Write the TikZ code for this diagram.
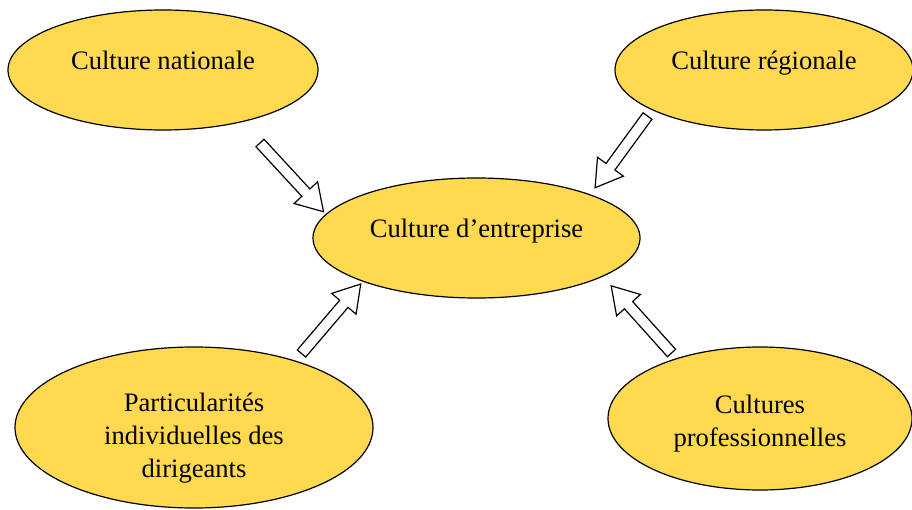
\documentclass[tikz,border=0pt]{standalone}
\usepackage{fontspec}
\setmainfont{Liberation Serif}
\usepackage{tikz}
\usetikzlibrary{calc,shapes,positioning}
\definecolor{jaune}{RGB}{255,217,80}

\tikzset{
  bulle/.style={ellipse, draw, line width=1.2pt, fill=jaune, inner sep=0pt,
    align=center, font=\fontsize{26.6}{33}\selectfont},
  uneligne/.style={text height=18pt, text depth=18pt},
  % fleche creuse : le corps et la pointe en un seul contour
  fleche/.style={draw, fill=white, line width=1.2pt, line join=miter,
    to path={let \p1=($(\tikztotarget)-(\tikztostart)$), \n1={atan2(\y1,\x1)},
      \n2={veclen(\x1,\y1)-#1}, \n3={\n2-26} in
      -- ($(\tikztostart)+(\n1+90:5.5pt)$)
      -- ($(\tikztostart)+(\n1:\n3)+(\n1+90:5.5pt)$)
      -- ($(\tikztostart)+(\n1:\n3)+(\n1+90:16pt)$)
      -- ($(\tikztostart)+(\n1:\n2)$)
      -- ($(\tikztostart)+(\n1:\n3)+(\n1-90:16pt)$)
      -- ($(\tikztostart)+(\n1:\n3)+(\n1-90:5.5pt)$)
      -- ($(\tikztostart)+(\n1-90:5.5pt)$)
      -- cycle}},
  fleche/.default=3
}

\begin{document}
\begin{tikzpicture}[x=1pt, y=1pt]
  \useasboundingbox (0,0) rectangle (912,509);

  \node[bulle, uneligne, minimum width=310pt, minimum height=120pt] (nat) at (163,439) {Culture nationale};
  \node[bulle, uneligne, minimum width=298pt, minimum height=120pt] (reg) at (764,439) {Culture régionale};
  \node[bulle, uneligne, minimum width=327pt, minimum height=120pt] (ent) at (476.5,271) {Culture d’entreprise};
  \node[bulle, minimum width=358pt, minimum height=161pt] (part) at (194,81.5)
    {\rule{0pt}{40pt}Particularités\\individuelles des\\dirigeants};
  \node[bulle, minimum width=304pt, minimum height=143pt] (prof) at (760,90.5)
    {\rule{0pt}{28pt}Cultures\\professionnelles};

  \coordinate (qn) at (260,366);
  \coordinate (qr) at (647.5,393);
  \coordinate (qp) at (301.5,155.5);
  \coordinate (qc) at (671.5,156);

  \path (qn) edge[fleche] (ent.171)
        (qr) edge[fleche=8] (ent.21)
        (qp) edge[fleche] (ent.-159)
        (qc) edge[fleche=12] (ent.-17);
\end{tikzpicture}
\end{document}
